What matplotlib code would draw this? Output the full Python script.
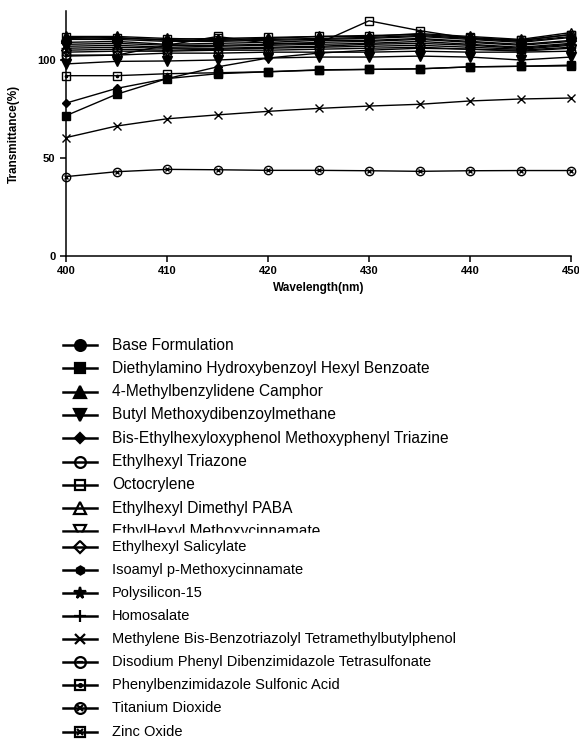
import matplotlib
matplotlib.use("Agg")
import matplotlib.pyplot as plt
from matplotlib.patches import Rectangle

plt.rcParams['font.family'] = ['Liberation Sans', 'DejaVu Sans']

wavelength = [400, 405, 410, 415, 420, 425, 430, 435, 440, 445, 450]

names = [
    'Base Formulation',
    'Diethylamino Hydroxybenzoyl Hexyl Benzoate',
    '4-Methylbenzylidene Camphor',
    'Butyl Methoxydibenzoylmethane',
    'Bis-Ethylhexyloxyphenol Methoxyphenyl Triazine',
    'Ethylhexyl Triazone',
    'Octocrylene',
    'Ethylhexyl Dimethyl PABA',
    'EthylHexyl Methoxycinnamate',
    'Ethylhexyl Salicylate',
    'Isoamyl p-Methoxycinnamate',
    'Polysilicon-15',
    'Homosalate',
    'Methylene Bis-Benzotriazolyl Tetramethylbutylphenol',
    'Disodium Phenyl Dibenzimidazole Tetrasulfonate',
    'Phenylbenzimidazole Sulfonic Acid',
    'Titanium Dioxide',
    'Zinc Oxide',
]

base = [109, 109.5, 108, 108.5, 109, 110, 110, 111, 109.5, 108, 110]
diethylamino = [71.6, 82.5, 90.5, 93, 94, 95, 95.2, 95.5, 96.5, 96.8, 97]
mbc = [111, 111.5, 110, 110, 110.5, 111, 111.5, 112.5, 111, 109.5, 112]
butyl = [98, 99.3, 99.5, 100, 101, 101.5, 101.5, 102, 101.5, 100, 101.5]
bis_ethyl = [78, 85.5, 90.5, 96.5, 101, 103.5, 105, 106, 105.5, 104.5, 106]
triazone = [102.5, 102.5, 103.5, 103.5, 104, 104, 104, 104.5, 104, 104, 104.5]
octocrylene = [102, 102.5, 107.5, 112, 108.5, 108.5, 120, 115, 111, 110, 113]
paba = [112, 112, 111, 110.5, 111, 112, 112, 113.5, 112, 110.5, 114]
ehmc = [107, 107.5, 106.5, 107, 107.5, 108, 108.5, 109.5, 108, 106.5, 108.5]
salicylate = [105, 105.5, 105, 105.5, 106, 106.5, 107, 107.5, 106.5, 105.5, 107.5]
isoamyl = [110.5, 110.5, 109.5, 109.5, 110, 110.5, 111, 112, 110.5, 109, 111.5]
polysilicon = [108, 108.5, 107.5, 107.5, 108, 109, 109.5, 110.5, 109, 107.5, 109.5]
homosalate = [106, 106.5, 106, 106, 106.5, 107, 108, 108.5, 107.5, 106, 108]
methylene = [60.4, 66.3, 70, 72, 73.8, 75.3, 76.5, 77.4, 79.1, 80.1, 80.6]
disodium = [104, 104.5, 104.5, 105, 105, 105.5, 106, 106.5, 105.5, 105, 106.5]
phenylbenz = [92, 92, 93, 93.5, 94, 94.8, 95.2, 95.5, 96.5, 96.8, 97.4]
tio2 = [40.5, 43, 44.2, 44, 43.7, 43.7, 43.5, 43.2, 43.5, 43.6, 43.6]
zinc = [111.5, 111, 110.5, 111, 111.5, 112, 112.5, 113, 111.5, 110, 113]

series = [base, diethylamino, mbc, butyl, bis_ethyl, triazone, octocrylene, paba,
          ehmc, salicylate, isoamyl, polysilicon, homosalate, methylene, disodium,
          phenylbenz, tio2, zinc]

# (outer marker, filled?, size, inner marker)
styles = [
    ('o', True, 6, None),
    ('s', True, 6, None),
    ('^', True, 6.5, None),
    ('v', True, 6.5, None),
    ('D', True, 4, None),
    ('o', False, 6, None),
    ('s', False, 6, None),
    ('^', False, 6.5, None),
    ('v', False, 6.5, None),
    ('D', False, 5, None),
    ('h', True, 4.5, None),
    ('*', True, 6.5, None),
    ('+', True, 7, None),
    ('x', True, 6, None),
    ('o', False, 6, '_'),
    ('s', False, 6, '.'),
    ('o', False, 6, 'x'),
    ('s', False, 6, 'x'),
]

W, H = 579, 739
fig = plt.figure(figsize=(W / 100, H / 100), dpi=100)
ax = fig.add_axes([66 / W, 1 - 256 / H, 505 / W, 245 / H])


def draw(a, x, y, st, lw=1.0, scale=1.0, mew=1.0):
    m, filled, ms, inner = st
    a.plot(x, y, color='black', lw=lw, marker=m, ms=ms * scale, mew=mew,
           mfc='black' if filled else 'none', mec='black', clip_on=False)
    if inner is not None:
        a.plot(x, y, ls='none', marker=inner, ms=ms * scale * 0.55, mew=mew,
               color='black', clip_on=False)


for vals, st in zip(series, styles):
    draw(ax, wavelength, vals, st)

ax.set_xlim(400, 450)
ax.set_ylim(0, 125)
ax.set_xticks([400, 410, 420, 430, 440, 450])
ax.set_yticks([0, 50, 100])
for s in ['top', 'right']:
    ax.spines[s].set_visible(False)
for s in ['left', 'bottom']:
    ax.spines[s].set_linewidth(1.1)
ax.tick_params(width=1.1, length=4, labelsize=8)
for lab in ax.get_xticklabels() + ax.get_yticklabels():
    lab.set_fontweight('bold')
ax.set_xlabel('Wavelength(nm)', fontsize=8.5, fontweight='bold', labelpad=4)
ax.set_ylabel('Transmittance(%)', fontsize=8.5, fontweight='bold', labelpad=12)

# legend drawn as a list below the chart
lg = fig.add_axes([0, 0, 1, 1])
lg.set_xlim(0, W)
lg.set_ylim(H, 0)
lg.axis('off')

ypos = [345 + 23.3 * i for i in range(9)] + [546.7 + 23.1 * i for i in range(9)]
for i, (name, st, yy) in enumerate(zip(names, styles, ypos)):
    lg.plot([63, 97], [yy, yy], color='black', lw=1.8)
    draw(lg, [80], [yy], st, lw=0, scale=1.3, mew=1.6)
    lg.text(112, yy, name, fontsize=11.2 if i < 9 else 10.5,
            va='center', ha='left')

# the list is cut through the ninth entry
lg.add_patch(Rectangle((0, 532.5), W, 6.5, color='white', zorder=10))

fig.savefig('out.png', dpi=100)
